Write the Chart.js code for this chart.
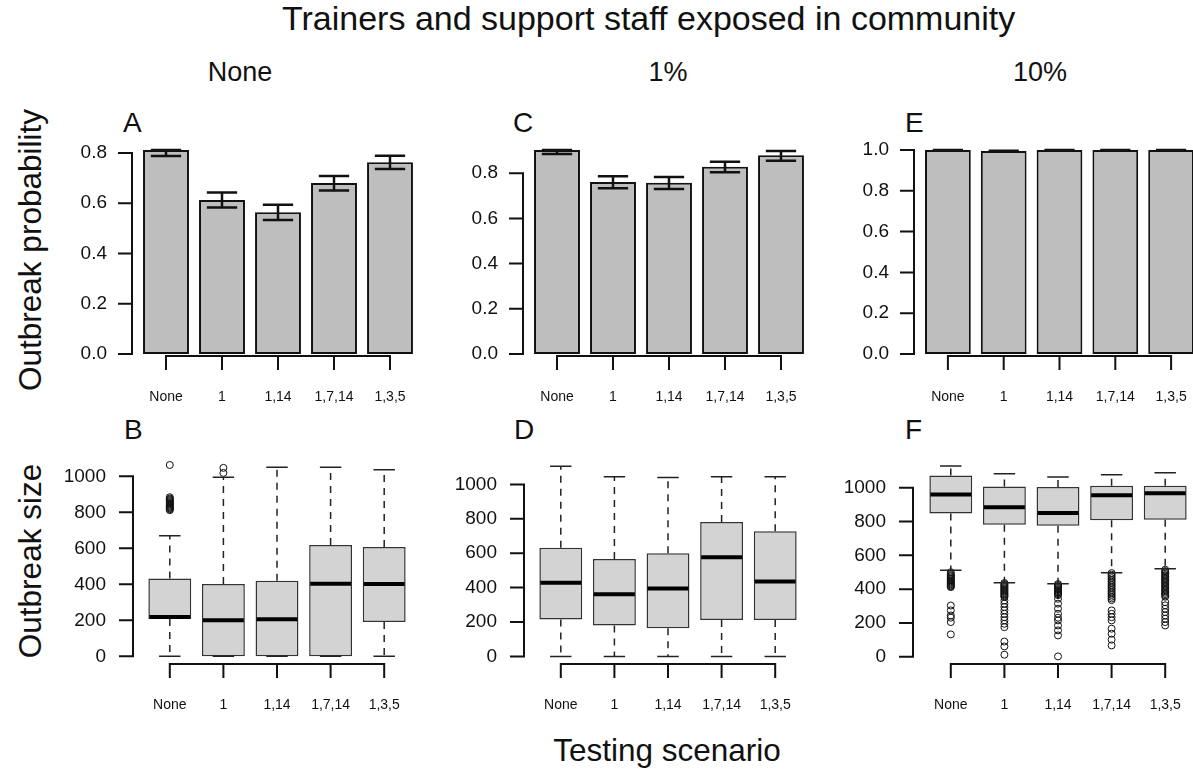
<!DOCTYPE html>
<html>
<head>
<meta charset="utf-8">
<script src="https://cdn.jsdelivr.net/npm/chart.js@4.4.1/dist/chart.umd.min.js"></script>
<style>
  html, body { margin: 0; padding: 0; background: #fff; overflow: hidden; }
  #fig { position: relative; width: 1193px; height: 769px; overflow: hidden;
         font-family: "Liberation Sans", Arial, sans-serif; color: #111; }
  #fig canvas { position: absolute; }
  .lbl { position: absolute; white-space: nowrap; line-height: 1; }
  .big { font-size: 31.5px; }
  .col { font-size: 27px; }
  .let { font-size: 28px; }
  .rot { transform: translate(-50%, -50%) rotate(-90deg); }
</style>
</head>
<body>
<div id="fig">
  <div class="lbl" style="left:282px; top:1px; font-size:34px;">Trainers and support staff exposed in community</div>
  <div class="lbl col" style="left:240px; top:59px; transform:translateX(-50%);">None</div>
  <div class="lbl col" style="left:668px; top:59px; transform:translateX(-50%);">1%</div>
  <div class="lbl col" style="left:1040px; top:59px; transform:translateX(-50%);">10%</div>
  <div class="lbl let" style="left:123px; top:109px;">A</div>
  <div class="lbl let" style="left:513px; top:109px;">C</div>
  <div class="lbl let" style="left:905px; top:109px;">E</div>
  <div class="lbl let" style="left:124px; top:416px;">B</div>
  <div class="lbl let" style="left:514px; top:416px;">D</div>
  <div class="lbl let" style="left:905px; top:416px;">F</div>
  <div class="lbl big rot" style="left:31px; top:250px;">Outbreak probability</div>
  <div class="lbl big rot" style="left:31px; top:561px;">Outbreak size</div>
  <div class="lbl big" style="left:667px; top:735px; transform:translateX(-50%);">Testing scenario</div>

  <canvas id="pA"></canvas>
  <canvas id="pC"></canvas>
  <canvas id="pE"></canvas>
  <canvas id="pB"></canvas>
  <canvas id="pD"></canvas>
  <canvas id="pF"></canvas>
</div>

<script>
const scenarios = ['None', '1', '1,14', '1,7,14', '1,3,5'];

const probTicks = [0, 0.2, 0.4, 0.6, 0.8];
const probTicks10 = [0, 0.2, 0.4, 0.6, 0.8, 1.0];
const sizeTicks = [0, 200, 400, 600, 800, 1000];

// outbreak probability, with lower / upper error bar ends
const probNone = [0.812, 0.613, 0.564, 0.681, 0.763];
const probNoneLo = [0.788, 0.583, 0.533, 0.651, 0.736];
const probNoneHi = [0.812, 0.643, 0.594, 0.708, 0.789];

const prob1 = [0.903, 0.761, 0.758, 0.829, 0.879];
const prob1Lo = [0.885, 0.733, 0.730, 0.804, 0.855];
const prob1Hi = [0.903, 0.786, 0.783, 0.851, 0.898];

const prob10 = [1.0, 0.995, 1.0, 1.0, 1.0];
const prob10Lo = [0.999, 0.994, 0.999, 0.999, 0.999];
const prob10Hi = [1.0, 0.996, 1.0, 1.0, 1.0];

// outbreak size boxplots: whisker low, q1, median, q3, whisker high, outliers
const sizeNoneLow = [0, 0, 0, 0, 0];
const sizeNoneQ1 = [208, 0, 0, 0, 191];
const sizeNoneMed = [219, 200, 206, 404, 402];
const sizeNoneQ3 = [432, 402, 420, 619, 608];
const sizeNoneHigh = [670, 995, 1050, 1050, 1037];
const sizeNoneOut = [
  [812, 817, 822, 827, 832, 837, 842, 847, 852, 857, 862, 867, 872, 877, 884, 1063],
  [1019, 1047],
  [], [], []
];

const size1Low = [0, 0, 0, 0, 0];
const size1Q1 = [215, 180, 163, 211, 211];
const size1Med = [428, 362, 395, 576, 436];
const size1Q3 = [631, 567, 600, 781, 727];
const size1High = [1106, 1044, 1040, 1044, 1044];
const size1Out = [[], [], [], [], []];

const size10Low = [511, 438, 432, 497, 521];
const size10Q1 = [848, 781, 775, 807, 811];
const size10Med = [960, 885, 850, 955, 968];
const size10Q3 = [1073, 1008, 1004, 1012, 1012];
const size10High = [1128, 1083, 1063, 1077, 1089];
const size10Out = [
  [500, 488, 482, 476, 470, 464, 458, 452, 446, 440, 434, 428, 422, 416, 412,
   303, 274, 244, 231, 205, 132],
  [436, 430, 424, 418, 412, 406, 400, 394, 388, 382, 376, 370, 364, 358,
   353, 333, 314, 294, 274, 254, 234, 215, 195, 175, 90, 61, 12],
  [430, 424, 418, 412, 406, 400, 394, 388, 382, 376, 370, 364,
   343, 314, 284, 254, 231, 215, 185, 156, 126, 2],
  [495, 485, 475, 465, 455, 445, 435, 425, 415, 405, 395, 385, 375, 365, 355, 345, 335,
   274, 254, 234, 215, 166, 136, 101, 67],
  [515, 507, 499, 491, 483, 475, 467, 459, 451, 443, 435, 427, 419, 411, 403, 395, 387, 379, 371, 363, 355,
   323, 304, 284, 264, 244, 225, 205, 185]
];

const FONT = '"Liberation Sans", Arial, sans-serif';
const INK = '#111';
// padding big enough that the scales' own label padding never moves the chart area
const Y_W = 100, X_H = 60, PAD_T = 70, PAD_R = 50;

// R style axes: y line only between first and last tick, x line between first and last category
const rAxes = {
  id: 'rAxes',
  afterDraw(chart, args, opts) {
    const { ctx, chartArea } = chart;
    const xs = chart.scales.x, ys = chart.scales.y;
    const ax = chartArea.left - opts.gap;
    const t = opts.ticks;
    ctx.save();
    ctx.strokeStyle = INK;
    ctx.lineWidth = 2;
    ctx.lineCap = 'square';
    ctx.beginPath();
    ctx.moveTo(ax, ys.getPixelForValue(t[0]));
    ctx.lineTo(ax, ys.getPixelForValue(t[t.length - 1]));
    t.forEach(v => {
      const p = ys.getPixelForValue(v);
      ctx.moveTo(ax, p);
      ctx.lineTo(ax - 13, p);
    });
    const by = chartArea.bottom;
    ctx.moveTo(xs.getPixelForValue(0), by);
    ctx.lineTo(xs.getPixelForValue(scenarios.length - 1), by);
    for (let i = 0; i < scenarios.length; i++) {
      const p = xs.getPixelForValue(i);
      ctx.moveTo(p, by);
      ctx.lineTo(p, by + 13);
    }
    ctx.stroke();
    ctx.restore();
  }
};

const errorBars = {
  id: 'errorBars',
  afterDatasetsDraw(chart, args, opts) {
    if (!opts.lo) return;
    const { ctx } = chart;
    const ys = chart.scales.y;
    ctx.save();
    ctx.strokeStyle = INK;
    ctx.lineWidth = 2.5;
    chart.getDatasetMeta(0).data.forEach((bar, i) => {
      const yl = ys.getPixelForValue(opts.lo[i]);
      const yh = ys.getPixelForValue(opts.hi[i]);
      const hw = bar.width * 0.33;
      ctx.beginPath();
      ctx.moveTo(bar.x, yl); ctx.lineTo(bar.x, yh);
      ctx.moveTo(bar.x - hw, yl); ctx.lineTo(bar.x + hw, yl);
      ctx.moveTo(bar.x - hw, yh); ctx.lineTo(bar.x + hw, yh);
      ctx.stroke();
    });
    ctx.restore();
  }
};

const boxParts = {
  id: 'boxParts',
  afterDatasetsDraw(chart, args, opts) {
    if (!opts.med) return;
    const { ctx } = chart;
    const ys = chart.scales.y;
    const meta = chart.getDatasetMeta(chart.data.datasets.findIndex(d => d.label === 'box'));
    ctx.save();
    meta.data.forEach((bar, i) => {
      const x = bar.x, hw = bar.width / 2;
      const pLow = ys.getPixelForValue(opts.low[i]);
      const pHigh = ys.getPixelForValue(opts.high[i]);
      const pQ1 = ys.getPixelForValue(opts.q1[i]);
      const pQ3 = ys.getPixelForValue(opts.q3[i]);
      // dashed whiskers
      ctx.strokeStyle = '#222';
      ctx.lineWidth = 1.5;
      ctx.setLineDash([7, 6]);
      ctx.beginPath();
      ctx.moveTo(x, pQ3); ctx.lineTo(x, pHigh);
      ctx.moveTo(x, pQ1); ctx.lineTo(x, pLow);
      ctx.stroke();
      // caps
      ctx.setLineDash([]);
      ctx.beginPath();
      ctx.moveTo(x - hw / 2, pHigh); ctx.lineTo(x + hw / 2, pHigh);
      ctx.moveTo(x - hw / 2, pLow); ctx.lineTo(x + hw / 2, pLow);
      ctx.stroke();
      // median
      const pm = ys.getPixelForValue(opts.med[i]);
      ctx.strokeStyle = '#000';
      ctx.lineWidth = 4;
      ctx.beginPath();
      ctx.moveTo(x - hw + 1, pm); ctx.lineTo(x + hw - 1, pm);
      ctx.stroke();
    });
    ctx.restore();
  }
};

function place(id, area) {
  const cv = document.getElementById(id);
  const w = Y_W + (area.r - area.l) + PAD_R;
  const h = PAD_T + (area.b - area.t) + X_H;
  cv.width = w; cv.height = h;
  cv.style.left = (area.l - Y_W) + 'px';
  cv.style.top = (area.t - PAD_T) + 'px';
  cv.style.width = w + 'px';
  cv.style.height = h + 'px';
  return cv;
}

function scalesFor(yMin, yMax, ticks, labelPad, fmt) {
  return {
    x: {
      type: 'category',
      offset: true,
      grid: { display: false, drawTicks: false },
      border: { display: false },
      ticks: { font: { family: FONT, size: 14 }, color: INK, padding: 32.6, maxRotation: 0, autoSkip: false },
      afterFit: s => { s.height = X_H; }
    },
    y: {
      min: yMin, max: yMax,
      grid: { display: false, drawTicks: false },
      border: { display: false },
      ticks: { font: { family: FONT, size: 19 }, color: INK, padding: labelPad, callback: fmt },
      afterBuildTicks: s => { s.ticks = ticks.map(v => ({ value: v })); },
      afterFit: s => { s.width = Y_W; }
    }
  };
}

function barPanel(id, area, values, lo, hi, ticks, yMin, yMax) {
  const cv = place(id, area);
  return new Chart(cv, {
    type: 'bar',
    data: {
      labels: scenarios,
      datasets: [{
        data: values,
        backgroundColor: '#bebebe',
        borderColor: INK,
        borderWidth: 2,
        borderSkipped: false,
        barPercentage: 0.82,
        categoryPercentage: 1.0
      }]
    },
    options: {
      responsive: false,
      animation: false,
      layout: { padding: { top: PAD_T, right: PAD_R, left: 0, bottom: 0 } },
      plugins: {
        legend: { display: false },
        tooltip: { enabled: false },
        errorBars: { lo: lo, hi: hi },
        rAxes: { ticks: ticks, gap: 6 }
      },
      scales: scalesFor(yMin, yMax, ticks, 31, v => v.toFixed(1))
    },
    plugins: [errorBars, rAxes]
  });
}

function boxPanel(id, area, low, q1, med, q3, high, outliers, gap, yMin, yMax) {
  const cv = place(id, area);
  const outPts = [];
  outliers.forEach((list, i) => list.forEach(v => outPts.push({ x: scenarios[i], y: v })));
  return new Chart(cv, {
    type: 'bar',
    data: {
      labels: scenarios,
      datasets: [
        {
          label: 'out',
          type: 'line',
          data: outPts,
          showLine: false,
          pointRadius: 3.5,
          pointBorderWidth: 1,
          pointBackgroundColor: 'rgba(0,0,0,0)',
          pointBorderColor: INK
        },
        {
          label: 'box',
          data: q1.map((v, i) => [v, q3[i]]),
          backgroundColor: '#d3d3d3',
          borderColor: '#333',
          borderWidth: 1.5,
          borderSkipped: false,
          barPercentage: 0.8,
          categoryPercentage: 1.0
        }
      ]
    },
    options: {
      responsive: false,
      animation: false,
      layout: { padding: { top: PAD_T, right: PAD_R, left: 0, bottom: 0 } },
      plugins: {
        legend: { display: false },
        tooltip: { enabled: false },
        boxParts: { low: low, q1: q1, med: med, q3: q3, high: high },
        rAxes: { ticks: sizeTicks, gap: gap }
      },
      scales: scalesFor(yMin, yMax, sizeTicks, gap + 27, v => String(v))
    },
    plugins: [boxParts, rAxes]
  });
}

barPanel('pA', { l: 138, r: 418, t: 145, b: 356 }, probNone, probNoneLo, probNoneHi, probTicks, -0.008, 0.8318);
barPanel('pC', { l: 529, r: 809, t: 145, b: 356 }, prob1, prob1Lo, prob1Hi, probTicks, -0.00885, 0.9248);
barPanel('pE', { l: 920, r: 1199, t: 145, b: 356 }, prob10, prob10Lo, prob10Hi, probTicks10, -0.0098, 1.0245);

boxPanel('pB', { l: 143, r: 411, t: 458, b: 664 }, sizeNoneLow, sizeNoneQ1, sizeNoneMed, sizeNoneQ3, sizeNoneHigh, sizeNoneOut, 10, -42.5, 1101.9);
boxPanel('pD', { l: 534, r: 802, t: 458, b: 664 }, size1Low, size1Q1, size1Med, size1Q3, size1High, size1Out, 10, -44.2, 1153.5);
boxPanel('pF', { l: 924, r: 1192, t: 458, b: 664 }, size10Low, size10Q1, size10Med, size10Q3, size10High, size10Out, 11, -43, 1175.9);
</script>
</body>
</html>
